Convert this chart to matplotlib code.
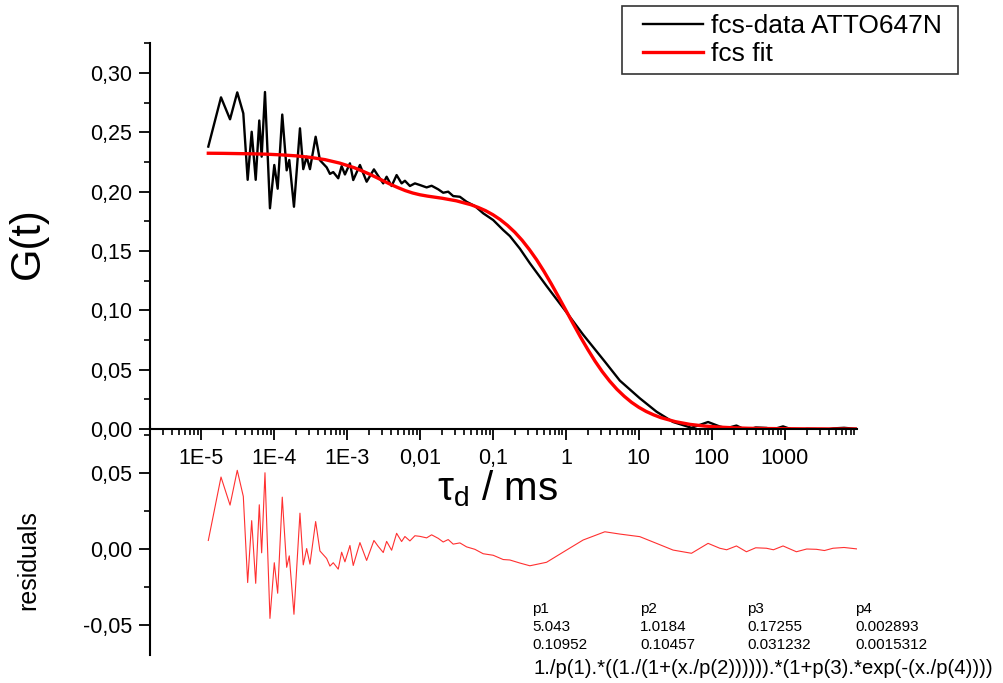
import numpy as np
import matplotlib
matplotlib.use("Agg")
import matplotlib.pyplot as plt
from matplotlib.ticker import FixedLocator, LogLocator, MultipleLocator, FuncFormatter, NullFormatter
from matplotlib.legend_handler import HandlerLine2D

plt.rcParams['font.family'] = ['Liberation Sans', 'DejaVu Sans']
plt.rcParams['mathtext.fontset'] = 'custom'
plt.rcParams['mathtext.rm'] = 'Liberation Sans'

# measured correlation curve (tau in ms), and residuals (data - fit)
tau = [1.259e-5, 1.88e-5, 2.50e-5, 3.14e-5, 3.80e-5, 4.36e-5, 4.95e-5, 5.62e-5,
       6.29e-5, 6.78e-5, 7.53e-5, 8.81e-5, 1.01e-4, 1.124e-4, 1.299e-4, 1.493e-4,
       1.621e-4, 1.879e-4, 2.271e-4, 2.520e-4, 2.805e-4, 3.113e-4, 3.725e-4, 4.267e-4,
       5.273e-4, 5.850e-4, 6.492e-4, 7.600e-4, 8.460e-4, 9.389e-4, 1.099e-3, 1.220e-3,
       1.507e-3, 1.862e-3, 2.344e-3, 2.685e-3, 3.144e-3, 3.499e-3, 4.097e-3, 4.796e-3,
       5.615e-3, 6.231e-3, 7.295e-3, 8.543e-3, 0.0100, 0.01236, 0.01447, 0.01781,
       0.02085, 0.02442, 0.02859, 0.03531, 0.04362, 0.05668, 0.07365, 0.1010,
       0.1384, 0.1710, 0.2344, 0.3213, 0.5444, 1.022, 1.726, 3.422,
       5.494, 10.32, 17.48, 29.51, 52.72, 89.0, 128.7, 160.0, 217.8,
       298.5, 400.0, 561.0, 700.0, 948.0, 1445.0, 2000.0, 2716.0, 3500.0,
       4591.0, 6500.0, 10000.0]
g_data = [0.238, 0.2795, 0.261, 0.2837, 0.266, 0.210, 0.2505, 0.210,
          0.260, 0.2295, 0.284, 0.186, 0.2225, 0.2025, 0.265, 0.218,
          0.2267, 0.1873, 0.2534, 0.219, 0.2295, 0.219, 0.2463, 0.2265,
          0.2205, 0.215, 0.2165, 0.2113, 0.2215, 0.2145, 0.2239, 0.2098,
          0.2225, 0.2084, 0.2188, 0.2132, 0.2070, 0.2126, 0.2048, 0.2140,
          0.2070, 0.2092, 0.2048, 0.2070, 0.2056, 0.2036, 0.2050, 0.2020,
          0.1991, 0.2000, 0.1963, 0.1957, 0.1915, 0.1879, 0.1818, 0.1761,
          0.1677, 0.1626, 0.1520, 0.1397, 0.1205, 0.0983, 0.0795, 0.0568,
          0.0408, 0.0259, 0.0146, 0.0059, 0.0010, 0.0059, 0.0021, 0.0007, 0.0029,
          -0.0011, 0.0013, 0.0009, -0.0002, 0.0022, -0.0017, 0.0001, -0.0001, -0.0009,
          0.0005, 0.0010, 0.0]
resid = [0.0056, 0.0472, 0.0288, 0.0516, 0.0345, -0.022, 0.0186, -0.0225,
         0.029, -0.0025, 0.050, -0.0455, -0.009, -0.029, 0.034, -0.012,
         -0.0045, -0.0428, 0.0235, -0.0104, 0.0003, -0.0099, 0.018, -0.0013,
         -0.0062, -0.0112, -0.009, -0.0132, -0.0021, -0.0084, 0.0023, -0.0108,
         0.0042, -0.0075, 0.0056, 0.0017, -0.0023, 0.005, -0.0008, 0.0103,
         0.0049, 0.0082, 0.0053, 0.0087, 0.0083, 0.0073, 0.0093, 0.0070,
         0.0046, 0.0062, 0.0032, 0.0040, 0.0014, -0.0002, -0.0031, -0.0041,
         -0.0069, -0.0072, -0.0092, -0.0110, -0.0087, -0.0007, 0.0059, 0.0113,
         0.0098, 0.0081, 0.0037, -0.0007, -0.0028, 0.0037, 0.0005, -0.0005, 0.0020,
         -0.0018, 0.0008, 0.0005, -0.0005, 0.0020, -0.0018, 0.0, -0.0002, -0.0010,
         0.0005, 0.0010, 0.0]

# fitted curve
tau_fit = [1.26e-5, 2.0e-5, 3.16e-5, 5.01e-5, 7.94e-5, 1.26e-4, 2.0e-4, 3.16e-4,
           5.01e-4, 7.94e-4, 1.26e-3, 1.585e-3, 2.0e-3, 2.512e-3, 3.16e-3, 3.981e-3,
           5.01e-3, 6.31e-3, 7.94e-3, 0.01, 0.0126, 0.01585, 0.02, 0.0316,
           0.0501, 0.0631, 0.0794, 0.1, 0.126, 0.1585, 0.2, 0.2512,
           0.316, 0.3981, 0.501, 0.631, 0.794, 1.0, 1.26, 1.585,
           2.0, 2.512, 3.16, 3.981, 5.01, 6.31, 7.94, 10.0,
           12.6, 15.85, 20.0, 31.6, 50.1, 79.4, 126.0, 200.0,
           316.0, 501.0, 794.0, 1260.0, 2000.0, 3160.0, 5010.0, 7940.0, 10000.0]
g_fit = [0.2324, 0.2323, 0.2321, 0.2319, 0.2316, 0.2310, 0.2302, 0.2289,
         0.2270, 0.2241, 0.2202, 0.2177, 0.2150, 0.2121, 0.2091, 0.2061,
         0.2034, 0.2009, 0.1989, 0.1974, 0.1963, 0.1954, 0.1945, 0.1923,
         0.1890, 0.1867, 0.1840, 0.1806, 0.1765, 0.1716, 0.1658, 0.1591,
         0.1513, 0.1426, 0.1329, 0.1224, 0.1114, 0.1001, 0.0887, 0.0776,
         0.0670, 0.0572, 0.0483, 0.0404, 0.0335, 0.0276, 0.0225, 0.0183,
         0.0148, 0.0120, 0.0096, 0.0062, 0.0039, 0.0025, 0.0016, 0.0010,
         0.0006, 0.0004, 0.0003, 0.0002, 0.0001, 0.0001, 0.0, 0.0, 0.0]

xtick_vals = [1e-5, 1e-4, 1e-3, 1e-2, 1e-1, 1, 10, 100, 1000]
xtick_labels = ['1E-5', '1E-4', '1E-3', '0,01', '0,1', '1', '10', '100', '1000']

params = ['p1', 'p2', 'p3', 'p4']
param_vals = ['5.043', '1.0184', '0.17255', '0.002893']
param_errs = ['0.10952', '0.10457', '0.031232', '0.0015312']
formula = '1./p(1).*((1./(1+(x./p(2)))))).*(1+p(3).*exp(-(x./p(4))))'

W, H = 1004, 683
fig = plt.figure(figsize=(W / 100, H / 100), dpi=100)

ax = fig.add_axes([150 / W, 1 - 429 / H, 707 / W, 386 / H])
axr = fig.add_axes([150 / W, 1 - 655 / H, 707 / W, 228 / H])
for a in (ax, axr):
    a.patch.set_alpha(0)
    for s in ('top', 'right'):
        a.spines[s].set_visible(False)
    a.spines['left'].set_linewidth(1.5)
axr.spines['bottom'].set_visible(False)
ax.spines['bottom'].set_linewidth(1.5)

ax.plot(tau, g_data, color='black', lw=1.7, label='fcs-data ATTO647N')
ax.plot(tau_fit, g_fit, color='#ff0000', lw=2.4, label='fcs fit')
axr.plot(tau, resid, color='#ff3030', lw=0.8)

comma = FuncFormatter(lambda v, p: ('%.2f' % v).replace('.', ',').replace('-0,00', '0,00'))

ax.set_xscale('log')
ax.set_xlim(2.0e-6, 9.78e3)
ax.set_ylim(0, 0.3253)
ax.xaxis.set_major_locator(FixedLocator(xtick_vals))
ax.set_xticklabels(xtick_labels)
ax.xaxis.set_minor_locator(LogLocator(base=10, subs=np.arange(2, 10), numticks=50))
ax.xaxis.set_minor_formatter(NullFormatter())
ax.yaxis.set_major_locator(MultipleLocator(0.05))
ax.yaxis.set_minor_locator(MultipleLocator(0.025))
ax.yaxis.set_major_formatter(comma)
ax.tick_params(which='major', length=8, width=1.3, labelsize=15.5, pad=5)
ax.tick_params(axis='x', which='major', pad=6)
ax.tick_params(which='minor', length=4.5, width=1.2)

axr.set_xscale('log')
axr.set_xlim(2.0e-6, 9.78e3)
axr.set_ylim(-0.0695, 0.08)
axr.xaxis.set_visible(False)
axr.yaxis.set_major_locator(MultipleLocator(0.05))
axr.yaxis.set_minor_locator(MultipleLocator(0.025))
axr.yaxis.set_major_formatter(comma)
axr.tick_params(which='major', length=8, width=1.3, labelsize=15.5, pad=5)
axr.tick_params(which='minor', length=4.5, width=1.2)

fig.text(28 / W, 1 - 243 / H, 'G(t)', rotation=90, fontsize=30, ha='center', va='center')
fig.text(28 / W, 1 - 560 / H, 'residuals', rotation=90, fontsize=18, ha='center', va='center')
fig.text(497 / W, 1 - 500 / H, r'τ$_\mathregular{d}$ / ms', fontsize=29, ha='center', va='baseline')

leg = fig.legend(loc='upper left', bbox_to_anchor=(622 / W, 1 - 72 / H, 336 / W, 66 / H),
                 mode='expand', fontsize=19, handlelength=2.77, handletextpad=0.3,
                 borderpad=0.3, labelspacing=0.15, fancybox=False, borderaxespad=0,
                 handler_map={matplotlib.lines.Line2D: HandlerLine2D(xpad=0.5)})
leg.get_frame().set_edgecolor('black')
leg.get_frame().set_linewidth(1.2)

col_x = [532, 640, 747, 855]
for i in range(4):
    fig.text(col_x[i] / W, 1 - 609 / H, params[i], fontsize=11, va='center')
    fig.text(col_x[i] / W, 1 - 627 / H, param_vals[i], fontsize=11, va='center')
    fig.text(col_x[i] / W, 1 - 645 / H, param_errs[i], fontsize=11, va='center')
fig.text(534 / W, 1 - 668 / H, formula, fontsize=14.6, va='center')

fig.savefig('out.png', dpi=100)
